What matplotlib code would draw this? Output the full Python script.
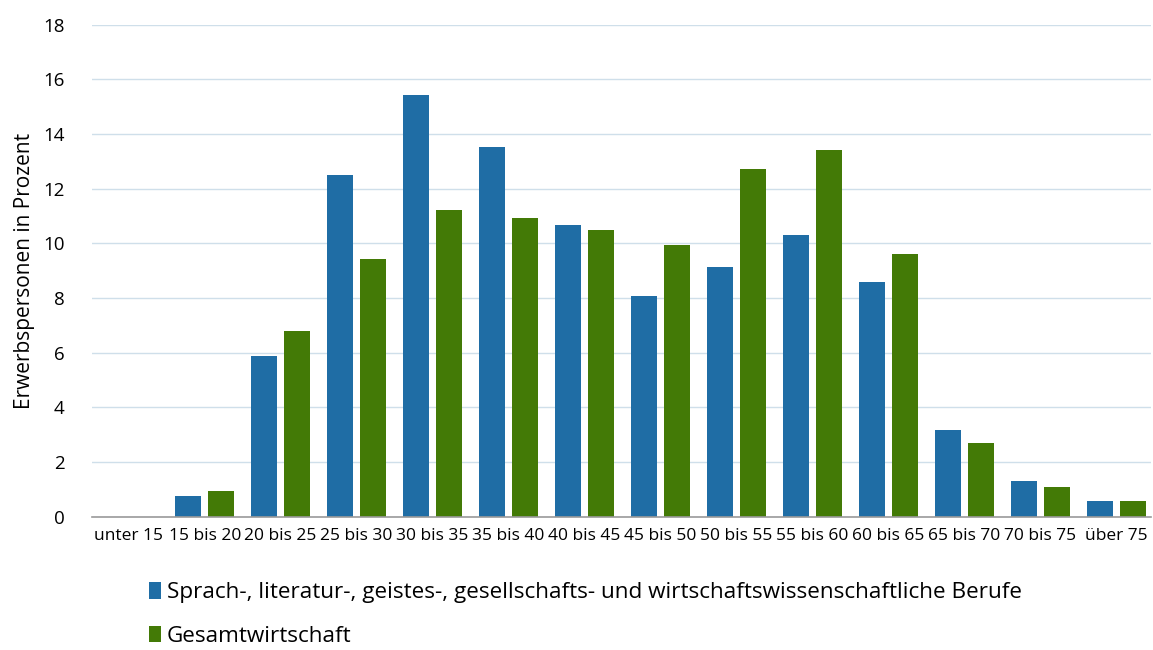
import matplotlib.pyplot as plt
import numpy as np

categories = ['unter 15', '15 bis 20', '20 bis 25', '25 bis 30', '30 bis 35',
              '35 bis 40', '40 bis 45', '45 bis 50', '50 bis 55', '55 bis 60',
              '60 bis 65', '65 bis 70', '70 bis 75', 'über 75']
berufe = [0.0, 0.77, 5.88, 12.51, 15.44, 13.54, 10.68, 8.06, 9.15, 10.32,
          8.57, 3.18, 1.32, 0.56]
gesamt = [0.0, 0.95, 6.81, 9.44, 11.23, 10.94, 10.50, 9.95, 12.73, 13.43,
          9.62, 2.71, 1.08, 0.56]
label_berufe = 'Sprach-, literatur-, geistes-, gesellschafts- und wirtschaftswissenschaftliche Berufe'
label_gesamt = 'Gesamtwirtschaft'

plt.rcParams['font.family'] = ['Open Sans', 'DejaVu Sans']

fig = plt.figure(figsize=(11.53, 6.5), dpi=100)
ax = fig.add_axes([0.080, 0.205, 0.918, 0.757])

x = np.arange(len(categories))
w = 0.34
ax.bar(x - 0.215, berufe, w, color='#1f6da5', label=label_berufe, zorder=3)
ax.bar(x + 0.215, gesamt, w, color='#437a06', label=label_gesamt, zorder=3)

ax.set_xlim(-0.48, 13.45)
ax.set_ylim(0, 18)
ax.set_yticks(range(0, 19, 2))
ax.set_xticks(x)
ax.set_xticklabels(categories, fontsize=12.5)
ax.tick_params(axis='y', labelsize=13.5, length=0, pad=20)
ax.tick_params(axis='x', length=0, pad=8)
ax.grid(axis='y', color='#cfdfea', linewidth=1, zorder=0)
for s in ['top', 'right', 'left']:
    ax.spines[s].set_visible(False)
ax.spines['bottom'].set_color('#9a9a9a')
ax.spines['bottom'].set_linewidth(1.2)
ax.spines['bottom'].set_zorder(4)
ax.set_ylabel('Erwerbspersonen in Prozent', fontsize=15, labelpad=6)

fig.legend(loc='upper left', bbox_to_anchor=(0.121, 0.118), frameon=False,
           fontsize=16.2, handlelength=0.55, handleheight=0.75, handletextpad=0.25,
           labelspacing=1.0, borderaxespad=0)

plt.savefig('out.png', dpi=100)
